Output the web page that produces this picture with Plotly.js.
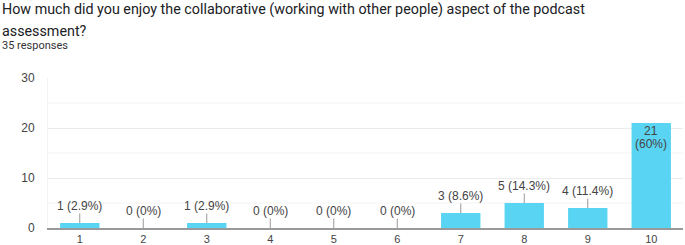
<!DOCTYPE html>
<html>
<head>
<meta charset="utf-8">
<script src="https://cdn.plot.ly/plotly-3.0.1.min.js"></script>
<style>
html,body{margin:0;padding:0;background:#fff;}
#chart{width:685px;height:245px;}
</style>
</head>
<body>
<div id="chart"></div>
<script>
const titleLines = ["How much did you enjoy the collaborative (working with other people) aspect of the podcast", "assessment?"];
const subtitleText = "35 responses";
const categories = ["1","2","3","4","5","6","7","8","9","10"];
const counts = [1, 0, 1, 0, 0, 0, 3, 5, 4, 21];
const percents = ["2.9%","0%","2.9%","0%","0%","0%","8.6%","14.3%","11.4%","60%"];
const yTicks = [0, 10, 20, 30];

const barColor = "#59d5f3";
const textColor = "#444";
const labelFont = {family: "Liberation Sans, Arial, sans-serif", size: 12, color: textColor};

const plotLeft = 48, plotW = 635, plotTop = 78, plotH = 150;
const annotations = [];
categories.forEach((c, i) => {
  if (counts[i] >= 20) {
    annotations.push({
      x: i, y: counts[i], xref: "x", yref: "y",
      text: String(counts[i]),
      showarrow: false, yanchor: "middle", yshift: -8,
      font: labelFont
    });
    annotations.push({
      x: i, y: counts[i], xref: "x", yref: "y",
      text: "(" + percents[i] + ")",
      showarrow: false, yanchor: "middle", yshift: -21,
      font: labelFont
    });
  } else {
    annotations.push({
      x: i, y: counts[i], xref: "x", yref: "y",
      text: counts[i] + " (" + percents[i] + ")",
      showarrow: true, arrowhead: 0, arrowwidth: 1, arrowcolor: "#999",
      ax: 0, ay: -17, standoff: 0, borderpad: 0,
      font: labelFont
    });
  }
});

function paperY(py) { return (plotTop + plotH - py) / plotH; }
const titleYs = [-1, 21];
titleLines.forEach((t, k) => {
  annotations.push({
    xref: "paper", yref: "paper", x: -plotLeft / plotW, y: paperY(titleYs[k]),
    xanchor: "left", yanchor: "top", text: t, showarrow: false, align: "left",
    font: {family: "Roboto, Arial, sans-serif", size: 14.3, color: "#202124"}
  });
});
annotations.push({
  xref: "paper", yref: "paper", x: -plotLeft / plotW, y: paperY(37),
  xanchor: "left", yanchor: "top", text: subtitleText, showarrow: false, align: "left",
  font: {family: "Roboto, Arial, sans-serif", size: 11, color: "#333"}
});

const shapes = [5, 15, 25].map(v => ({
  type: "line", xref: "paper", yref: "y", x0: 0, x1: 1, y0: v, y1: v,
  line: {color: "#f3f3f3", width: 1}, layer: "below"
}));

const data = [{
  type: "bar",
  x: categories,
  y: counts,
  marker: {color: barColor, line: {width: 0}},
  width: 0.62,
  hoverinfo: "none"
}];

const layout = {
  width: 685, height: 245,
  margin: {l: plotLeft, r: 685 - plotLeft - plotW, t: plotTop, b: 245 - plotTop - plotH},
  paper_bgcolor: "#fff", plot_bgcolor: "#fff",
  showlegend: false,
  xaxis: {
    type: "category",
    range: [-0.5, 9.5],
    showgrid: false, zeroline: false,
    showline: true, linecolor: "#999", linewidth: 2,
    ticks: "", tickfont: {family: "Liberation Sans, Arial, sans-serif", size: 11, color: textColor},
    ticklabelstandoff: 0
  },
  yaxis: {
    range: [0, 30],
    tickvals: yTicks,
    showgrid: true, gridcolor: "#ebebeb", gridwidth: 1,
    zeroline: false, showline: true, linecolor: "#f3f3f3", linewidth: 1,
    ticks: "", ticklabelstandoff: 10,
    tickfont: {family: "Liberation Sans, Arial, sans-serif", size: 12, color: textColor}
  },
  shapes: shapes,
  annotations: annotations
};

Plotly.newPlot("chart", data, layout, {staticPlot: true, displayModeBar: false});
</script>
</body>
</html>
